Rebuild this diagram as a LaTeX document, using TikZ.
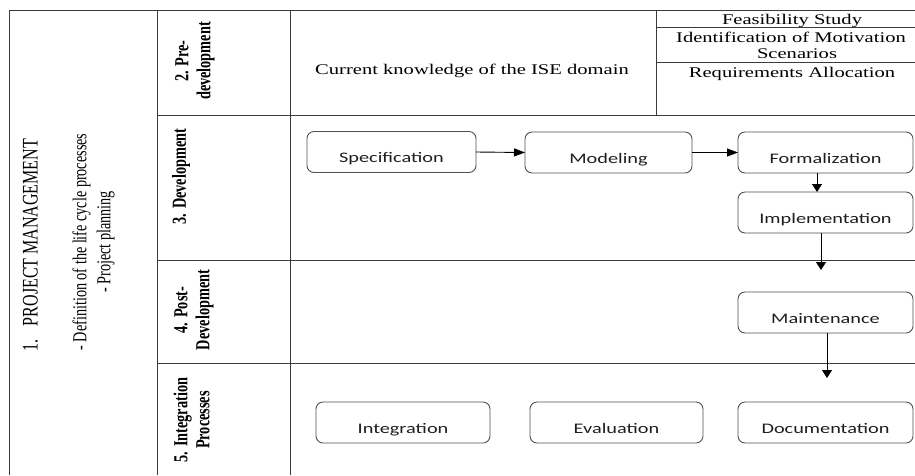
\documentclass[tikz,border=0pt]{standalone}
\usepackage{fontspec}
\setmainfont{Liberation Serif}
\newfontfamily\calibrifont{Carlito}
\usepackage{graphicx}
\usetikzlibrary{arrows.meta}
\definecolor{tblgray}{HTML}{3A3A3A}
\definecolor{boxgray}{HTML}{505050}
\definecolor{boxtext}{HTML}{1E1E1E}
\newcommand{\hstr}[1]{\scalebox{1.39}[1]{#1}}
\newcommand{\vstr}[1]{\scalebox{1}[1.39]{\begin{tabular}{@{}c@{}}#1\end{tabular}}}
\begin{document}
\begin{tikzpicture}[x=1pt,y=-1pt,
  tbl/.style={draw=tblgray,line width=1pt},
  pbox/.style={draw=boxgray,line width=0.9pt,rounded corners=7pt,
    minimum height=41pt,inner sep=0pt,outer sep=0pt,
    text height=21pt,text depth=0pt,text=boxtext,
    font=\calibrifont\fontsize{14.6}{16}\selectfont},
  serif/.style={inner sep=0pt,font=\fontsize{14.8}{16}\selectfont},
  rowlbl/.style={rotate=90,inner sep=0pt,font=\bfseries\fontsize{14.3}{15.8}\selectfont},
  harr/.style={draw=black,line width=0.9pt,-{Triangle[length=11pt,width=8pt]}},
  varr/.style={draw=black,line width=0.9pt,-{Triangle[length=8pt,width=10pt]}}]
\useasboundingbox (0,0) rectangle (915,475);

% table grid
\draw[tbl] (9,475) -- (9,10) -- (915,10);
\draw[tbl] (157,10) -- (157,475);
\draw[tbl] (290,10) -- (290,475);
\draw[tbl] (157,115) -- (915,115);
\draw[tbl] (157,260) -- (915,260);
\draw[tbl] (157,363) -- (915,363);
\draw[tbl] (656,10) -- (656,115);
\draw[tbl] (656,27) -- (915,27);
\draw[tbl] (656,62) -- (915,62);

% left column
\node[rotate=90,inner sep=0pt,font=\fontsize{16}{18}\selectfont] (pm) at (32.5,245)
  {\vstr{1.\hspace{13pt}PROJECT MANAGEMENT}};
\node[rotate=90,inner sep=0pt,font=\fontsize{14.2}{17.3}\selectfont] (pmdesc) at (93.5,242)
  {\vstr{- Definition of the life cycle processes\\- Project planning}};

% row labels
\node[rowlbl] (r2) at (195,61) {\vstr{2. Pre-\\development}};
\node[rowlbl] (r3) at (181.5,176.5) {\vstr{3. Development}};
\node[rowlbl] (r4) at (194,310) {\vstr{4. Post-\\Development}};
\node[rowlbl] (r5) at (194,420) {\vstr{5. Integration\\Processes}};

% pre-development contents
\node[serif,anchor=base] (cur) at (472,74) {\hstr{Current knowledge of the ISE domain}};
\node[serif,anchor=base] (feas) at (792,24) {\hstr{Feasibility Study}};
\node[serif,anchor=base] (ident) at (791,42) {\hstr{Identification of Motivation}};
\node[serif,anchor=base] (scen) at (797,58) {\hstr{Scenarios}};
\node[serif,anchor=base] (req) at (792,77) {\hstr{Requirements Allocation}};

% process boxes
\node[pbox,minimum width=169pt] (spec) at (391.5,152) {\hstr{Specification}};
\node[pbox,minimum width=167pt] (model) at (608.5,152.5) {\hstr{Modeling}};
\node[pbox,minimum width=175pt] (form) at (825.5,152.5) {\hstr{Formalization}};
\node[pbox,minimum width=175pt] (impl) at (825.5,212.5) {\hstr{Implementation}};
\node[pbox,minimum width=175pt] (maint) at (825.5,312.5) {\hstr{Maintenance}};
\node[pbox,minimum width=174pt] (integ) at (403,422.5) {\hstr{Integration}};
\node[pbox,minimum width=173pt] (eval) at (616.5,422.5) {\hstr{Evaluation}};
\node[pbox,minimum width=175pt] (doc) at (825.5,422.5) {\hstr{Documentation}};

% connectors
\coordinate (e1) at (821,270);
\coordinate (e2) at (827,378);
\draw[harr] (spec.east) -- (model.west);
\draw[harr] (model.east) -- (form.west);
\draw[varr] ([xshift=-8.5pt]form.south) -- ([xshift=-8.5pt]impl.north);
\draw[varr] (impl.south -| e1) -- (e1);
\draw[varr] (maint.south -| e2) -- (e2);
\end{tikzpicture}
\end{document}
